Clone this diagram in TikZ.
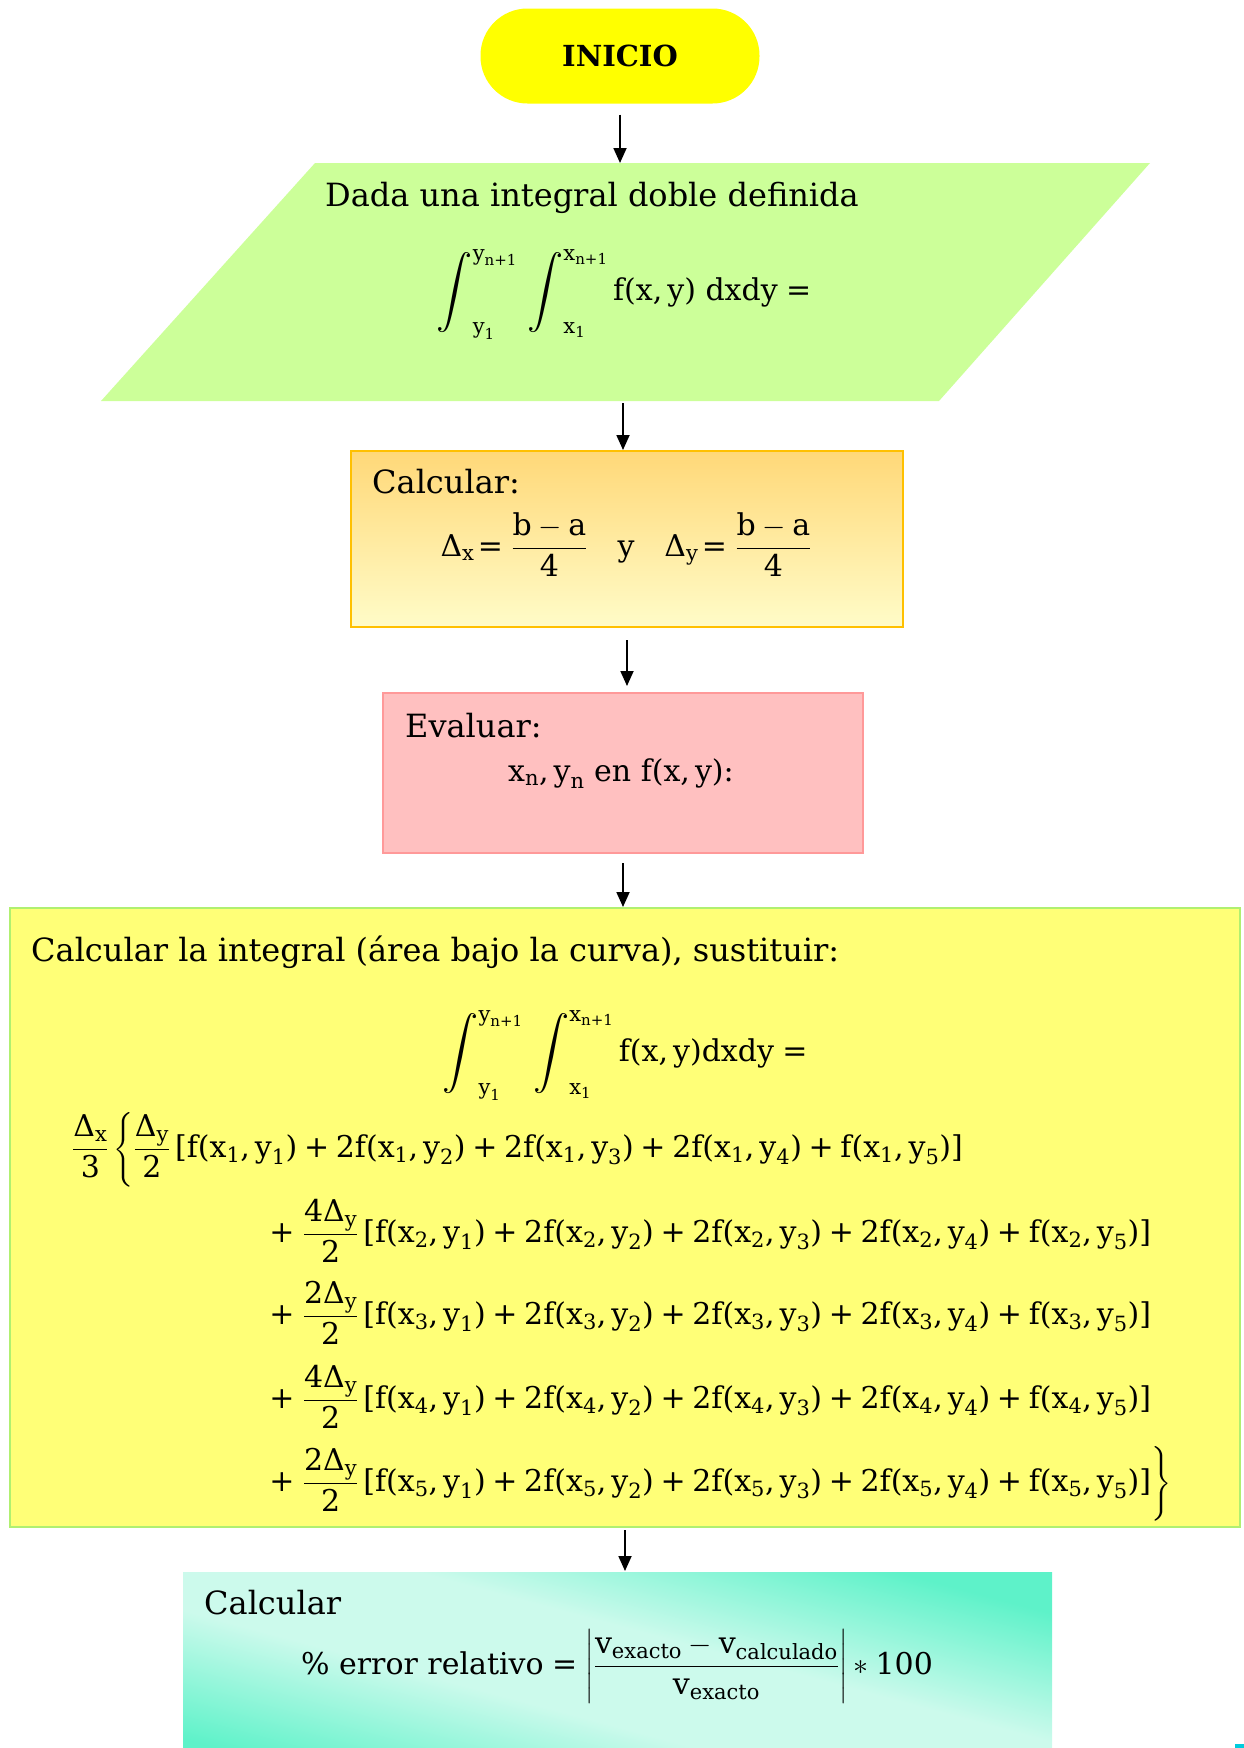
\documentclass[tikz,border=0pt]{standalone}
\usepackage{fix-cm}
\usepackage{amsmath}
\usepackage{fontspec}
\setmainfont{DejaVu Serif}
\usetikzlibrary{arrows.meta,positioning,calc}

\definecolor{amarillo}{HTML}{FFFF00}
\definecolor{verdeclaro}{HTML}{CCFF99}
\definecolor{naranja}{HTML}{FFC000}
\definecolor{oro}{HTML}{FFD878}
\definecolor{crema}{HTML}{FFFCC8}
\definecolor{rosa}{HTML}{FFC0C0}
\definecolor{rosaborde}{HTML}{FF9999}
\definecolor{amarillito}{HTML}{FFFF77}
\definecolor{verdeborde}{HTML}{B0F070}
\definecolor{turquesa}{HTML}{5EF2C9}
\definecolor{menta}{HTML}{CCFAEC}
\definecolor{cian}{HTML}{00CCDD}
\pgfdeclareverticalshading{bandamenta}{100bp}{color(0bp)=(turquesa); color(25bp)=(turquesa); color(43bp)=(menta); color(57bp)=(menta); color(75bp)=(turquesa); color(100bp)=(turquesa)}

\newcommand\tsz{\fontsize{32}{38}\selectfont}
\newcommand\msz{\fontsize{30}{36}\selectfont}
% todo en la fuente del texto
\newcommand\mas{\mathbin{\text{+}}}
\newcommand\igual{\mathrel{\text{=}}}
\newcommand\Dl{\text{Δ}}
\newcommand\Int{\mathop{\vcenter{\hbox{\scalebox{1.45}{$\displaystyle\int$}}}}\nolimits}
\newcommand\lims[2]{_{\text{#1}_{\text{1}}}^{\text{#1}_{\text{#2}}}}
\newcommand\fxy[2]{\text{f(x}_{\text{#1}}\text{,\,y}_{\text{#2}}\text{)}}
\newcommand\fila[1]{\,\text{[}\fxy{#1}{1}\mas\text{2}\fxy{#1}{2}\mas\text{2}\fxy{#1}{3}\mas\text{2}\fxy{#1}{4}\mas\fxy{#1}{5}\text{]}}

\begin{document}
\begin{tikzpicture}[x=1pt,y=-1pt,
    every node/.style={inner sep=0pt,font=\tsz},
    formula/.style={font=\msz,anchor=base},
    flecha/.style={line width=1.8pt,-{Triangle[length=15pt,width=13pt]}},
    inicio/.style={fill=amarillo,rounded corners=47pt,minimum width=279pt,minimum height=95pt,font=\fontsize{29}{35}\selectfont\bfseries},
    caja/.style={rectangle,line width=2pt}]
  \clip (0,0) rectangle (1244,1748);

  % bloques
  \node[inicio] (inicio) at (620,56) {INICIO};
  \fill[verdeclaro] (315,163) -- (1150,163) -- (939,401) -- (101,401) -- cycle;
  \coordinate (datosN) at (620,163);
  \coordinate (datosS) at (623,401);
  \node[caja,draw=naranja,top color=oro,bottom color=crema,minimum width=552pt,minimum height=176pt] (calc) at (627,539) {};
  \node[caja,draw=rosaborde,fill=rosa,minimum width=480pt,minimum height=160pt] (evaluar) at (623,773) {};
  \node[caja,draw=verdeborde,fill=amarillito,minimum width=1230pt,minimum height=619pt] (integral) at (625,1217.5) {};
  \node[caja,shading=bandamenta,shading angle=-15,minimum width=869pt,minimum height=208pt] (error) at (617.5,1676) {};
  \fill[cian] (1235,1744) rectangle (1244,1748);

  % textos
  \node[anchor=base west] (tdada) at (325,206) {Dada una integral doble definida};
  \node[formula] (fdada) at (624,300) {$\Int\lims{y}{n+1}\,\Int\lims{x}{n+1}\text{f(x,\,y) dxdy}\igual$};
  \node[anchor=base west] (tcalc) at (372,493) {Calcular:};
  \node[formula] (fcalc) at (626,556) {$\Dl_{\text{x}}\!\igual\dfrac{\text{b}-\text{a}}{\text{4}}\quad\text{y}\quad\Dl_{\text{y}}\!\igual\dfrac{\text{b}-\text{a}}{\text{4}}$};
  \node[anchor=base west] (teval) at (405,737) {Evaluar:};
  \node[formula] (feval) at (621,781) {$\text{x}_{\text{n}}\text{,\,y}_{\text{n}}$ en f(x,\,y):};
  \node[anchor=base west] (tint) at (31,961) {Calcular la integral (área bajo la curva), sustituir:};
  \node[formula] (fint) at (625,1061) {$\Int\lims{y}{n+1}\,\Int\lims{x}{n+1}\text{f(x,\,y)dxdy}\igual$};
  \node[formula,anchor=base west] (fila1) at (72,1157) {$\dfrac{\Dl_{\text{x}}}{\text{3}}\left\{\dfrac{\Dl_{\text{y}}}{\text{2}}\fila{1}\right.$};
  \foreach \i/\c/\y/\cierre in {2/4/1242/.,3/2/1324/.,4/4/1408/.,5/2/1491/\}} {
    \node[formula,anchor=base west] (fila\i) at (268,\y) {$\left.\text{+}\;\dfrac{\text{\c}\Dl_{\text{y}}}{\text{2}}\fila{\i}\right\cierre$};
  }
  \node[anchor=base west] (terr) at (204,1614) {Calcular};
  \node[formula] (ferr) at (617,1674) {$\text{\% error relativo}\igual\left|\dfrac{\text{v}_{\text{exacto}}-\text{v}_{\text{calculado}}}{\text{v}_{\text{exacto}}}\right|\ast\text{100}$};

  % flechas
  \draw[flecha,shorten <=11pt] (inicio.south) -- (inicio.south |- datosN);
  \draw[flecha,shorten <=2pt] (datosS) -- (datosS |- calc.north);
  \draw[flecha,shorten <=12pt,shorten >=6pt] (calc.south) -- (calc.south |- evaluar.north);
  \draw[flecha,shorten <=9pt] (evaluar.south) -- (evaluar.south |- integral.north);
  \draw[flecha,shorten <=2pt] (integral.south) -- (integral.south |- error.north);
\end{tikzpicture}
\end{document}
